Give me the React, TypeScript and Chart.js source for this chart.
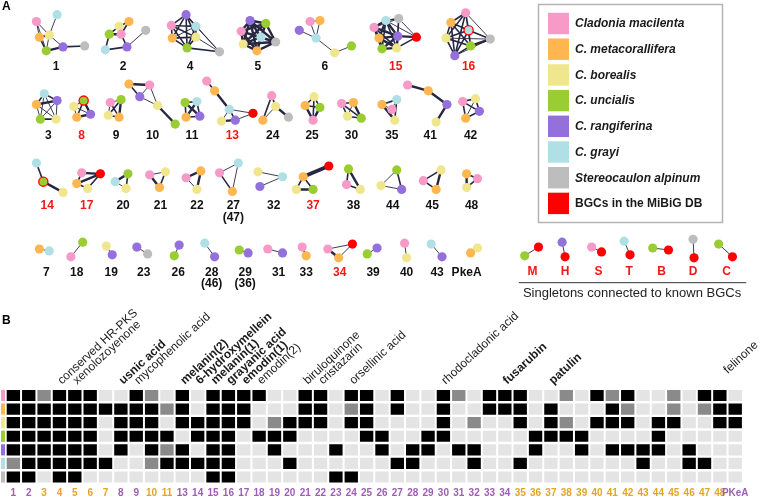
import React, { useEffect, useRef } from 'react';
import { Chart, registerables } from 'chart.js';

Chart.register(...registerables);

const FONT = "'Liberation Sans', Arial, Helvetica, sans-serif";

// ---------- Species / legend ----------
const SPECIES_LABELS = [
  'Cladonia macilenta',
  'C. metacorallifera',
  'C. borealis',
  'C. uncialis',
  'C. rangiferina',
  'C. grayi',
  'Stereocaulon alpinum',
  'BGCs in the MiBiG DB',
];
const SPECIES_CODES = ['P', 'O', 'Y', 'G', 'U', 'L', 'S', 'R'];
const SPECIES_COLORS = ['#f79ac8', '#fdb650', '#efe68e', '#9acd32', '#9370db', '#b0e0e6', '#bdbdbd', '#ff0000'];

// ---------- Panel A: networks ----------
const NET_IDS = [
  '1', '2', '4', '5', '6', '15', '16',
  '3', '8', '9', '10', '11', '13', '24', '25', '30', '35', '41', '42',
  '14', '17', '20', '21', '22', '27', '32', '37', '38', '44', '45', '48',
  '7', '18', '19', '23', '26', '28', '29', '31', '33', '34', '39', '40', '43', 'PkeA',
  'M', 'H', 'S', 'T', 'B', 'D', 'C',
];
const NET_SUBLABELS: Record<string, string> = { '27': '(47)', '28': '(46)', '29': '(36)' };
const NET_RED_LABELS = ['15', '16', '8', '13', '14', '17', '37', '34', 'M', 'H', 'S', 'T', 'B', 'D', 'C'];
const NET_LABEL_XY: [number, number][] = [
  [51, 62], [119, 62], [187, 62], [256, 62], [324, 62], [396, 62], [470, 62],
  [43, 133], [77, 133], [112, 133], [149, 133], [189, 133], [230, 133], [271, 133], [311, 133], [351, 133], [392, 133], [431, 133], [472, 133],
  [42, 205], [82, 205], [119, 205], [157, 205], [194, 205], [231, 205], [272, 205], [312, 205], [353, 205], [393, 205], [433, 205], [473, 205],
  [41, 273], [72, 273], [107, 273], [140, 273], [175, 273], [209, 273], [243, 273], [277, 273], [305, 273], [339, 273], [373, 273], [407, 273], [438, 273], [468, 273],
  [535, 272], [568, 272], [602, 272], [633, 272], [666, 272], [698, 272], [732, 272],
];
// node: [species code (* = also in MiBiG), x, y]
const NET_NODES: [string, number, number][][] = [
  [['P', 31, 16], ['L', 52, 9], ['O', 34, 32], ['Y', 44, 30], ['G', 41, 46], ['U', 58, 42], ['S', 80, 41]],
  [['Y', 115, 21], ['O', 125, 16], ['G', 105, 29], ['P', 117, 29], ['S', 142, 25], ['L', 101, 45], ['U', 123, 42]],
  [['U', 183, 9], ['P', 168, 20], ['L', 193, 21], ['O', 169, 33], ['Y', 193, 32], ['G', 184, 43], ['S', 217, 47]],
  [['U', 248, 15], ['G', 264, 18], ['P', 239, 26], ['L', 259, 32], ['S', 274, 37], ['Y', 241, 39], ['O', 255, 46]],
  [['P', 309, 16], ['O', 319, 15], ['U', 298, 25], ['L', 315, 33], ['Y', 334, 48], ['G', 351, 41]],
  [['L', 386, 15], ['S', 399, 13], ['P', 374, 22], ['O', 379, 33], ['U', 398, 31], ['R', 417, 32], ['G', 382, 44], ['Y', 397, 43]],
  [['P', 467, 7], ['O', 452, 17], ['L*', 470, 25], ['Y', 447, 33], ['G', 472, 41], ['S', 492, 34], ['U', 456, 51]],
  [['L', 39, 90], ['O', 31, 101], ['U', 52, 97], ['G', 35, 116], ['Y', 51, 116]],
  [['G*', 79, 97], ['Y', 69, 103], ['O', 72, 114], ['U', 86, 111]],
  [['P', 106, 99], ['G', 117, 96], ['Y', 104, 112], ['O', 115, 114]],
  [['O', 125, 80], ['P', 146, 81], ['U', 136, 93], ['Y', 154, 102], ['G', 172, 121]],
  [['G', 182, 99], ['L', 194, 98], ['O', 183, 114], ['U', 197, 113]],
  [['P', 204, 77], ['O', 212, 87], ['L', 227, 106], ['R', 251, 110], ['Y', 219, 118], ['U', 233, 117]],
  [['P', 270, 92], ['Y', 274, 103], ['O', 261, 117], ['S', 287, 114]],
  [['Y', 313, 93], ['O', 304, 102], ['G', 319, 104], ['P', 312, 117]],
  [['P', 341, 100], ['O', 353, 99], ['Y', 347, 113], ['G', 361, 115]],
  [['O', 382, 101], ['L', 397, 96], ['P', 392, 106], ['Y', 395, 117]],
  [['P', 408, 81], ['O', 429, 87], ['U', 448, 101], ['Y', 437, 119]],
  [['P', 464, 98], ['Y', 477, 95], ['O', 467, 115], ['U', 481, 108]],
  [['L', 31, 161], ['G*', 38, 180], ['Y', 58, 191]],
  [['P', 77, 171], ['R', 96, 172], ['O', 72, 182], ['Y', 83, 187]],
  [['G', 124, 172], ['L', 111, 180], ['Y', 122, 187]],
  [['Y', 162, 170], ['P', 146, 173], ['O', 156, 186]],
  [['O', 198, 169], ['P', 183, 176], ['Y', 194, 188]],
  [['L', 236, 161], ['P', 217, 171], ['O', 230, 190]],
  [['Y', 256, 170], ['L', 281, 175], ['U', 258, 185]],
  [['R', 328, 164], ['O', 302, 175], ['Y', 295, 188], ['G', 312, 188]],
  [['G', 348, 167], ['P', 346, 183], ['Y', 360, 188]],
  [['G', 397, 168], ['Y', 381, 184], ['U', 402, 188]],
  [['Y', 442, 168], ['P', 424, 179], ['O', 437, 188]],
  [['O', 468, 172], ['P', 479, 177], ['Y', 468, 186]],
  [['O', 34, 249], ['L', 44, 251]],
  [['G', 78, 242], ['P', 66, 257]],
  [['Y', 102, 246], ['U', 108, 255]],
  [['U', 133, 247], ['S', 144, 254]],
  [['U', 176, 245], ['G', 171, 256]],
  [['L', 202, 243], ['U', 212, 257]],
  [['G', 237, 250], ['U', 246, 253]],
  [['P', 266, 249], ['U', 281, 253]],
  [['P', 301, 247], ['O', 305, 256]],
  [['P', 327, 249], ['R', 352, 244], ['O', 338, 258]],
  [['G', 367, 254], ['U', 377, 248]],
  [['P', 405, 243], ['Y', 407, 258]],
  [['L', 432, 244], ['U', 443, 257]],
  [['O', 472, 253], ['Y', 479, 248]],
  [['G', 527, 256], ['R', 541, 247]],
  [['U', 565, 242], ['R', 568, 257]],
  [['P', 595, 247], ['R', 605, 252]],
  [['L', 628, 241], ['R', 634, 255]],
  [['G', 657, 248], ['R', 673, 250]],
  [['S', 698, 239], ['R', 699, 258]],
  [['G', 724, 244], ['R', 738, 257]],
];
// edge: [from, to, weight class 1..4]
const NET_EDGES: [number, number, number][][] = [
  [[0, 2, 1], [0, 3, 1], [0, 4, 1], [1, 3, 1], [2, 3, 3], [2, 4, 2], [3, 4, 1], [3, 5, 1], [4, 5, 3], [5, 6, 2]],
  [[0, 1, 2], [0, 2, 2], [1, 3, 2], [2, 3, 3], [0, 3, 1], [2, 5, 2], [5, 6, 2], [3, 6, 2], [6, 4, 1]],
  [[0, 1, 2], [0, 2, 2], [0, 3, 2], [0, 4, 2], [0, 5, 2], [1, 2, 2], [1, 3, 2], [1, 4, 2], [1, 5, 2], [2, 3, 1], [2, 4, 2], [2, 5, 2], [3, 4, 2], [3, 5, 2], [4, 5, 2], [0, 6, 1], [2, 6, 1], [4, 6, 1], [5, 6, 2]],
  [[0, 1, 3], [0, 2, 3], [0, 3, 3], [0, 4, 3], [0, 5, 3], [0, 6, 3], [1, 2, 3], [1, 3, 3], [1, 4, 3], [1, 5, 3], [1, 6, 3], [2, 3, 3], [2, 4, 3], [2, 5, 3], [2, 6, 3], [3, 4, 3], [3, 5, 3], [3, 6, 3], [4, 5, 3], [4, 6, 3], [5, 6, 3]],
  [[0, 1, 1], [0, 3, 1], [1, 3, 1], [2, 3, 1], [3, 4, 1], [4, 5, 1]],
  [[0, 1, 2], [0, 2, 3], [0, 3, 3], [0, 4, 3], [0, 6, 2], [0, 7, 2], [1, 2, 1], [1, 4, 2], [1, 7, 2], [2, 3, 3], [2, 4, 3], [2, 6, 3], [2, 7, 2], [3, 4, 3], [3, 6, 3], [3, 7, 3], [4, 6, 3], [4, 7, 3], [6, 7, 3], [4, 5, 3], [1, 5, 1], [7, 5, 2], [0, 5, 1]],
  [[0, 1, 2], [0, 2, 2], [0, 3, 2], [0, 4, 2], [0, 6, 2], [1, 2, 2], [1, 3, 2], [1, 4, 2], [1, 6, 2], [2, 3, 2], [2, 4, 2], [2, 6, 2], [3, 4, 2], [3, 6, 2], [4, 6, 2], [0, 5, 1], [2, 5, 2], [4, 5, 3], [6, 5, 1], [3, 5, 1]],
  [[0, 1, 2], [0, 2, 2], [1, 2, 3], [0, 3, 1], [0, 4, 1], [1, 3, 1], [1, 4, 1], [2, 3, 1], [2, 4, 1], [3, 4, 2]],
  [[0, 1, 1], [0, 2, 2], [0, 3, 3], [2, 3, 3], [1, 2, 1], [1, 3, 1]],
  [[0, 1, 1], [0, 3, 2], [1, 2, 2], [1, 3, 3], [2, 3, 2], [0, 2, 1]],
  [[0, 1, 3], [0, 2, 2], [1, 2, 1], [1, 3, 1], [2, 3, 1], [3, 4, 3]],
  [[0, 1, 2], [0, 2, 2], [0, 3, 3], [1, 2, 3], [1, 3, 2], [2, 3, 2]],
  [[0, 1, 2], [1, 2, 3], [2, 3, 1], [2, 4, 1], [2, 5, 2], [4, 5, 3], [5, 3, 1]],
  [[0, 2, 2], [0, 1, 2], [1, 2, 1], [1, 3, 3]],
  [[0, 1, 2], [0, 2, 2], [0, 3, 2], [1, 2, 2], [1, 3, 3], [2, 3, 3]],
  [[0, 1, 2], [0, 2, 2], [0, 3, 2], [1, 3, 3], [2, 3, 2], [1, 2, 1]],
  [[0, 1, 2], [0, 3, 3], [1, 3, 2], [0, 2, 1], [1, 2, 1]],
  [[0, 1, 3], [1, 2, 3], [2, 3, 3]],
  [[0, 1, 2], [0, 2, 2], [0, 3, 2], [1, 2, 1], [1, 3, 2], [2, 3, 2]],
  [[0, 1, 2], [1, 2, 3]],
  [[0, 1, 3], [2, 1, 3], [3, 1, 2], [0, 2, 2], [2, 3, 2]],
  [[0, 1, 3], [1, 2, 1], [0, 2, 2]],
  [[1, 0, 1], [1, 2, 3], [0, 2, 2]],
  [[1, 0, 3], [0, 2, 3], [1, 2, 1]],
  [[0, 1, 1], [0, 2, 1], [1, 2, 2]],
  [[0, 1, 1], [2, 1, 1]],
  [[1, 0, 4], [1, 2, 2], [1, 3, 2], [2, 3, 3]],
  [[0, 1, 2], [0, 2, 3], [1, 2, 2]],
  [[0, 1, 1], [0, 2, 2], [1, 2, 1]],
  [[0, 1, 2], [0, 2, 3], [1, 2, 2]],
  [[0, 1, 2], [0, 2, 3], [1, 2, 2]],
  [[0, 1, 1]], [[0, 1, 1]], [[0, 1, 1]], [[0, 1, 1]], [[0, 1, 1]], [[0, 1, 1]], [[0, 1, 1]], [[0, 1, 1]], [[0, 1, 2]],
  [[0, 1, 1], [0, 2, 3], [2, 1, 1]],
  [[0, 1, 1]], [[0, 1, 1]], [[0, 1, 1]], [[0, 1, 1]],
  [[0, 1, 1]], [[0, 1, 1]], [[0, 1, 1]], [[0, 1, 1]], [[0, 1, 1]], [[0, 1, 1]], [[0, 1, 1]],
];
const EDGE_WIDTHS = [0.9, 1.6, 2.4, 3.6];
const SINGLETON_CAPTION = 'Singletons connected to known BGCs';

// ---------- Panel B: heatmap ----------
const HM_COLS = [
  '1', '2', '3', '4', '5', '6', '7', '8', '9', '10', '11',
  '13', '14', '15', '16', '17', '18', '19', '20', '21', '22', '23', '24', '25', '26', '27', '28', '29', '30', '31', '32', '33', '34',
  '35', '36', '37', '38', '39', '40', '41', '42', '43', '44', '45', '46', '47', '48', 'PKeA',
];
const HM_COL_GROUP = [
  'p', 'p', 'g', 'g', 'g', 'g', 'g', 'p', 'p', 'g', 'g',
  'p', 'p', 'p', 'p', 'p', 'p', 'p', 'p', 'p', 'p', 'p', 'p', 'p', 'p', 'p', 'p', 'p', 'p', 'p', 'p', 'p', 'p',
  'g', 'g', 'g', 'g', 'g', 'g', 'g', 'g', 'g', 'g', 'g', 'g', 'g', 'g', 'p',
];
const HM_ROWS: number[][] = [
  [1, 1, .5, 1, 1, 1, 0, 0, 1, .5, 0, 1, 0, 1, 1, 1, 1, 0, 0, 1, 1, 0, 1, 1, 0, 1, 0, 0, 1, .5, 0, 1, 1, 1, 0, 0, .5, 0, 1, .5, 1, 0, 0, .5, 0, 1, 1, 0],
  [1, 1, 1, 1, 1, 1, 1, 1, 1, 1, .5, 1, 0, 1, 1, 1, 0, 0, 0, 1, 1, 0, .5, 1, 0, 1, 0, 0, 1, 0, 0, 1, 1, 1, 0, 1, 0, 0, 0, 1, .5, 0, 0, .5, 0, .5, 1, 1],
  [1, 1, 1, 1, 1, 1, 0, 1, 1, 1, 0, 1, 1, 1, 1, 1, 0, .5, 1, 1, 1, 0, 1, 1, 0, 0, 0, 0, 1, 0, .5, 0, 0, 1, 0, 1, .5, 0, 1, 1, 1, 0, 1, 1, 0, 0, 1, 1],
  [1, 1, 1, 1, 1, 1, 0, 1, 1, 1, 1, 0, 1, 1, 1, 0, 1, 1, 1, 0, 0, 0, 0, 1, 1, 0, 0, 1, 1, 0, 0, 0, 0, 0, 1, 1, 1, 1, 0, 0, 0, 0, 1, 0, 0, 0, 0, 0],
  [1, 1, 1, 1, 1, 1, 0, 1, 0, 1, .5, 1, 0, 1, 1, 0, 0, 1, 0, 0, 0, 1, 0, 0, 1, 0, 1, 1, 0, 1, 1, 0, 0, 0, 1, 0, 0, 1, 0, 1, 1, 1, 1, 0, 1, 0, 0, 0],
  [.5, 1, 1, 1, 1, 1, 1, 0, 0, .5, 1, 1, 1, 1, 1, 0, 0, 0, 1, 0, 0, 0, 0, 0, 0, 1, 1, 0, 0, 0, 1, 0, 0, 1, 0, 0, 0, 0, 0, 0, 0, 1, 0, 0, 1, 1, 0, 0],
  [1, 1, 0, 1, 1, 0, 0, 0, 0, 0, 0, 0, 0, 1, 1, 0, 0, 0, 0, 0, 0, 1, 1, 0, 0, 0, 0, 0, 0, 0, 0, 0, 0, 0, 0, 0, 0, 0, 0, 0, 0, 0, 0, 0, 0, 0, 0, 0],
];
// [column, compound, bold]
const HM_COMPOUNDS: [string, string, boolean][] = [
  ['4', 'conserved HR-PKS', false],
  ['5', 'xenolozoyenone', false],
  ['8', 'usnic acid', true],
  ['9', 'mycophenolic acid', false],
  ['13', 'melanin(2)', true],
  ['14', '6-hydroxymellein', true],
  ['15', 'melanin(1)', true],
  ['16', 'grayanic acid', true],
  ['17', 'emodin(1)', true],
  ['18', 'emodin(2)', false],
  ['21', 'biruloquinone', false],
  ['22', 'cristazarin', false],
  ['24', 'orsellinic acid', false],
  ['30', 'rhodocladonic acid', false],
  ['34', 'fusarubin', true],
  ['37', 'patulin', true],
  ['PKeA', 'felinone', false],
];
const CELL_COLORS: Record<string, string> = { '0': '#e4e4e4', '0.5': '#8a8a8a', '1': '#000000' };
const PURPLE_TXT = '#9d5fb3';
const GOLD_TXT = '#e2a526';

function buildChartA(canvas: HTMLCanvasElement) {
  const edgeSets = EDGE_WIDTHS.map((w, wi) => {
    const data: { x: number | null; y: number | null }[] = [];
    NET_EDGES.forEach((edges, n) => {
      edges.forEach(([a, b, cls]) => {
        if (cls !== wi + 1) return;
        const na = NET_NODES[n][a];
        const nb = NET_NODES[n][b];
        data.push({ x: na[1], y: na[2] }, { x: nb[1], y: nb[2] }, { x: null, y: null });
      });
    });
    return {
      type: 'scatter' as const,
      data,
      showLine: true,
      spanGaps: false,
      borderColor: '#272742',
      borderWidth: w,
      pointRadius: 0,
      order: 5,
      clip: false as const,
    };
  });

  const nodeSets = SPECIES_CODES.map((code, si) => {
    const pts: { x: number; y: number; special: boolean }[] = [];
    NET_NODES.forEach((nodes) =>
      nodes.forEach(([c, x, y]) => {
        if (c.replace('*', '') === code) pts.push({ x, y, special: c.includes('*') });
      }),
    );
    return {
      type: 'scatter' as const,
      data: pts.map((p) => ({ x: p.x, y: p.y })),
      backgroundColor: SPECIES_COLORS[si],
      pointRadius: 4.6,
      pointBorderWidth: pts.map((p) => (p.special ? 1.3 : 0)),
      pointBorderColor: pts.map((p) => (p.special ? '#ff0000' : SPECIES_COLORS[si])),
      order: 1,
      clip: false as const,
    };
  });

  const textPlugin = {
    id: 'panelAText',
    afterDraw(chart: any) {
      const { ctx } = chart;
      const sx = chart.scales.x;
      const sy = chart.scales.y;
      ctx.save();
      ctx.textAlign = 'center';
      ctx.textBaseline = 'middle';
      ctx.font = `bold 12px ${FONT}`;
      NET_IDS.forEach((id, i) => {
        const [x, y] = NET_LABEL_XY[i];
        ctx.fillStyle = NET_RED_LABELS.includes(id) ? '#f21818' : '#111111';
        ctx.fillText(id, sx.getPixelForValue(x), sy.getPixelForValue(y));
        if (NET_SUBLABELS[id]) ctx.fillText(NET_SUBLABELS[id], sx.getPixelForValue(x), sy.getPixelForValue(y + 12));
      });
      // panel letter
      ctx.textAlign = 'left';
      ctx.fillStyle = '#000';
      ctx.font = `bold 12px ${FONT}`;
      ctx.fillText('A', 2, 7);
      // singleton caption
      ctx.strokeStyle = '#333';
      ctx.lineWidth = 1;
      ctx.beginPath();
      ctx.moveTo(sx.getPixelForValue(521), sy.getPixelForValue(283) + 0.5);
      ctx.lineTo(sx.getPixelForValue(752), sy.getPixelForValue(283) + 0.5);
      ctx.stroke();
      ctx.textAlign = 'center';
      ctx.fillStyle = '#222';
      ctx.font = `13px ${FONT}`;
      ctx.fillText(SINGLETON_CAPTION, sx.getPixelForValue(636), sy.getPixelForValue(294));
      // legend box
      ctx.strokeStyle = '#b4b4b4';
      ctx.lineWidth = 1.5;
      ctx.strokeRect(538.5, 4.5, 184, 218);
      SPECIES_LABELS.forEach((lab, i) => {
        const cy = 23.5 + 25.7 * i;
        ctx.fillStyle = SPECIES_COLORS[i];
        ctx.fillRect(548, cy - 10.7, 21, 21.4);
        ctx.fillStyle = '#1a1a1a';
        ctx.textAlign = 'left';
        ctx.font = i === SPECIES_LABELS.length - 1 ? `bold 12px ${FONT}` : `italic bold 12px ${FONT}`;
        ctx.fillText(lab, 575, cy + 0.5);
      });
      ctx.restore();
    },
  };

  return new Chart(canvas, {
    type: 'scatter',
    data: { datasets: [...edgeSets, ...nodeSets] as any },
    options: {
      animation: false,
      responsive: false,
      maintainAspectRatio: false,
      events: [],
      layout: { padding: 0 },
      plugins: { legend: { display: false }, tooltip: { enabled: false } },
      scales: {
        x: { type: 'linear', min: 0, max: 760, display: false },
        y: { type: 'linear', min: 0, max: 498, reverse: true, display: false },
      },
    },
    plugins: [textPlugin],
  });
}

function buildChartB(canvas: HTMLCanvasElement) {
  const lastCol = HM_COLS[HM_COLS.length - 1];
  const topLabels = HM_COLS.map((c) => {
    const f = HM_COMPOUNDS.find((d) => d[0] === c);
    if (!f) return '';
    // the last compound label sits one line higher in the reference
    return c === lastCol ? [f[1], ''] : f[1];
  });
  const topBold = HM_COLS.map((c) => {
    const f = HM_COMPOUNDS.find((d) => d[0] === c);
    return f ? f[2] : false;
  });

  const datasets = HM_ROWS.map((row, r) => ({
    data: HM_COLS.map(() => [r - 0.41, r + 0.41]),
    backgroundColor: row.map((v) => CELL_COLORS[String(v)]),
    borderWidth: 0,
    grouped: false,
    barPercentage: 0.87,
    categoryPercentage: 1,
  }));

  const swatchPlugin = {
    id: 'rowSwatches',
    afterDraw(chart: any) {
      const { ctx } = chart;
      const sy = chart.scales.y;
      ctx.save();
      HM_ROWS.forEach((_, r) => {
        const y0 = sy.getPixelForValue(r - 0.41);
        const y1 = sy.getPixelForValue(r + 0.41);
        ctx.fillStyle = SPECIES_COLORS[r];
        ctx.fillRect(1, y0, 4, y1 - y0);
      });
      ctx.fillStyle = '#000';
      ctx.font = `bold 12px ${FONT}`;
      ctx.textAlign = 'left';
      ctx.textBaseline = 'middle';
      ctx.fillText('B', 2, 21);
      ctx.restore();
    },
  };

  return new Chart(canvas, {
    type: 'bar',
    data: { labels: HM_COLS, datasets: datasets as any },
    options: {
      animation: false,
      responsive: false,
      maintainAspectRatio: false,
      events: [],
      layout: { padding: { left: 5.7, right: 17.1, top: 0, bottom: 0 } },
      plugins: { legend: { display: false }, tooltip: { enabled: false } },
      scales: {
        x: {
          type: 'category',
          position: 'bottom',
          offset: true,
          grid: { display: false, drawTicks: false },
          border: { display: false },
          ticks: {
            autoSkip: false,
            minRotation: 0,
            maxRotation: 0,
            padding: 3,
            color: (ctx: any) => (HM_COL_GROUP[ctx.index] === 'p' ? PURPLE_TXT : GOLD_TXT),
            font: { family: FONT, size: 10, weight: 'bold' },
          },
          afterFit: (s: any) => {
            s.height = 14.2;
            s.paddingLeft = 0;
            s.paddingRight = 0;
          },
        },
        x2: {
          type: 'category',
          labels: topLabels,
          position: 'top',
          offset: true,
          grid: { display: false, drawTicks: false },
          border: { display: false },
          ticks: {
            autoSkip: false,
            minRotation: 43,
            maxRotation: 43,
            padding: 1,
            labelOffset: 10,
            color: '#1a1a1a',
            font: (ctx: any) => ({ family: FONT, size: 12, weight: topBold[ctx.index] ? 'bold' : 'normal' }),
          },
          afterFit: (s: any) => {
            s.height = 88.7;
            s.paddingLeft = 0;
            s.paddingRight = 0;
          },
        },
        y: { type: 'linear', min: -0.5, max: 6.5, reverse: true, display: false },
      },
    } as any,
    plugins: [swatchPlugin],
  });
}

export default function App() {
  const refA = useRef<HTMLCanvasElement>(null);
  const refB = useRef<HTMLCanvasElement>(null);
  useEffect(() => {
    const a = buildChartA(refA.current!);
    const b = buildChartB(refB.current!);
    return () => {
      a.destroy();
      b.destroy();
    };
  }, []);
  return (
    <div style={{ position: 'fixed', left: 0, top: 0, width: 760, height: 498, background: '#fff', overflow: 'hidden' }}>
      <canvas ref={refA} width={760} height={498} style={{ position: 'absolute', left: 0, top: 0, display: 'block' }} />
      <canvas ref={refB} width={760} height={198} style={{ position: 'absolute', left: 0, top: 300, display: 'block' }} />
    </div>
  );
}
